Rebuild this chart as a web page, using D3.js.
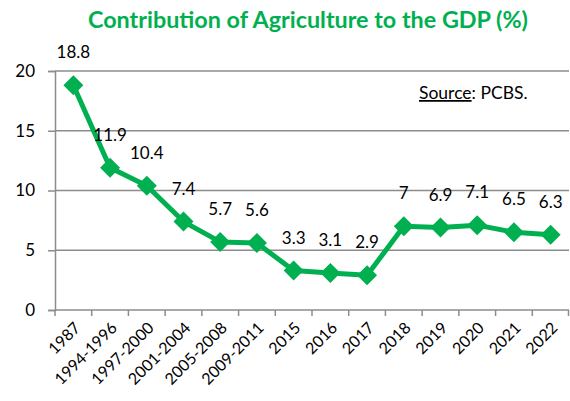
<!DOCTYPE html>
<html>
<head>
<meta charset="utf-8">
<script src="https://cdn.jsdelivr.net/npm/d3@7/dist/d3.min.js"></script>
<style>
  html, body { margin: 0; padding: 0; background: #fff; }
  svg { display: block; font-family: Lato, "Open Sans", sans-serif; }
</style>
</head>
<body>
<svg id="chart" width="570" height="401"></svg>
<script>
// Share of agriculture in GDP, by period
const periods = ["1987", "1994-1996", "1997-2000", "2001-2004", "2005-2008", "2009-2011",
  "2015", "2016", "2017", "2018", "2019", "2020", "2021", "2022"];
const shares = [18.8, 11.9, 10.4, 7.4, 5.7, 5.6, 3.3, 3.1, 2.9, 7, 6.9, 7.1, 6.5, 6.3];
const yTicks = [0, 5, 10, 15, 20];

const W = 570, H = 401;
const margin = { top: 71, right: 1, bottom: 91, left: 55 };
const green = "#00B050";
const grid = "#8c8c8c";

const svg = d3.select("#chart");

const x = d3.scaleBand()
  .domain(periods)
  .range([margin.left, W - margin.right])
  .paddingInner(0).paddingOuter(0);

const y = d3.scaleLinear()
  .domain([0, 20])
  .range([H - margin.bottom, margin.top]);

// horizontal gridlines
svg.append("g")
  .selectAll("line")
  .data(yTicks.filter(d => d > 0))
  .join("line")
  .attr("x1", margin.left).attr("x2", W - margin.right)
  .attr("y1", d => y(d)).attr("y2", d => y(d))
  .attr("stroke", grid).attr("stroke-width", 1.5);

// y axis
const yAxis = svg.append("g")
  .attr("transform", `translate(${margin.left},0)`)
  .call(d3.axisLeft(y).tickValues(yTicks).tickSize(7).tickPadding(13));
yAxis.select(".domain").attr("stroke", grid).attr("stroke-width", 1.5);
yAxis.selectAll(".tick line").attr("stroke", grid).attr("stroke-width", 1.5);
yAxis.selectAll(".tick text")
  .attr("fill", "#000").attr("font-size", 17).attr("font-family", "Lato, sans-serif");

// x axis: ticks at category boundaries
const xAxisG = svg.append("g")
  .attr("transform", `translate(0,${y(0)})`);
xAxisG.append("line")
  .attr("x1", margin.left).attr("x2", W - margin.right)
  .attr("stroke", grid).attr("stroke-width", 1.5);
const bounds = periods.map(p => x(p)).concat([x(periods[periods.length - 1]) + x.bandwidth()]);
xAxisG.selectAll("line.tk")
  .data(bounds)
  .join("line")
  .attr("class", "tk")
  .attr("x1", d => Math.min(d, W - 1.5)).attr("x2", d => Math.min(d, W - 1.5))
  .attr("y1", 0).attr("y2", 6)
  .attr("stroke", grid).attr("stroke-width", 1.5);
xAxisG.selectAll("text")
  .data(periods)
  .join("text")
  .attr("transform", d => `translate(${x(d) + x.bandwidth() / 2 + 4},${15}) rotate(-45)`)
  .attr("text-anchor", "end")
  .attr("dy", "0.35em")
  .attr("font-size", 16)
  .attr("fill", "#000")
  .text(d => d);

// series line
const cx = (d, i) => x(periods[i]) + x.bandwidth() / 2;
svg.append("path")
  .datum(shares)
  .attr("fill", "none")
  .attr("stroke", green)
  .attr("stroke-width", 5)
  .attr("stroke-linejoin", "round")
  .attr("d", d3.line().x(cx).y(d => y(d)));

// diamond markers
svg.append("g")
  .selectAll("path")
  .data(shares)
  .join("path")
  .attr("transform", (d, i) => `translate(${cx(d, i)},${y(d)}) rotate(45)`)
  .attr("d", d3.symbol().type(d3.symbolSquare).size(200)())
  .attr("fill", green);

// value labels
svg.append("g")
  .selectAll("text")
  .data(shares)
  .join("text")
  .attr("x", cx)
  .attr("y", d => y(d) - 27)
  .attr("text-anchor", "middle")
  .attr("font-size", 17)
  .attr("fill", "#000")
  .text(d => d);

// title
svg.append("text")
  .attr("x", 308).attr("y", 28)
  .attr("text-anchor", "middle")
  .attr("font-size", 22)
  .attr("font-weight", "bold")
  .attr("fill", green)
  .attr("textLength", 440)
  .attr("lengthAdjust", "spacingAndGlyphs")
  .text("Contribution of Agriculture to the GDP (%)");

// source note
const src = svg.append("text")
  .attr("x", 419).attr("y", 99)
  .attr("font-size", 17.5)
  .attr("fill", "#000");
src.append("tspan").attr("text-decoration", "underline").text("Source");
src.append("tspan").text(": PCBS.");
</script>
</body>
</html>
